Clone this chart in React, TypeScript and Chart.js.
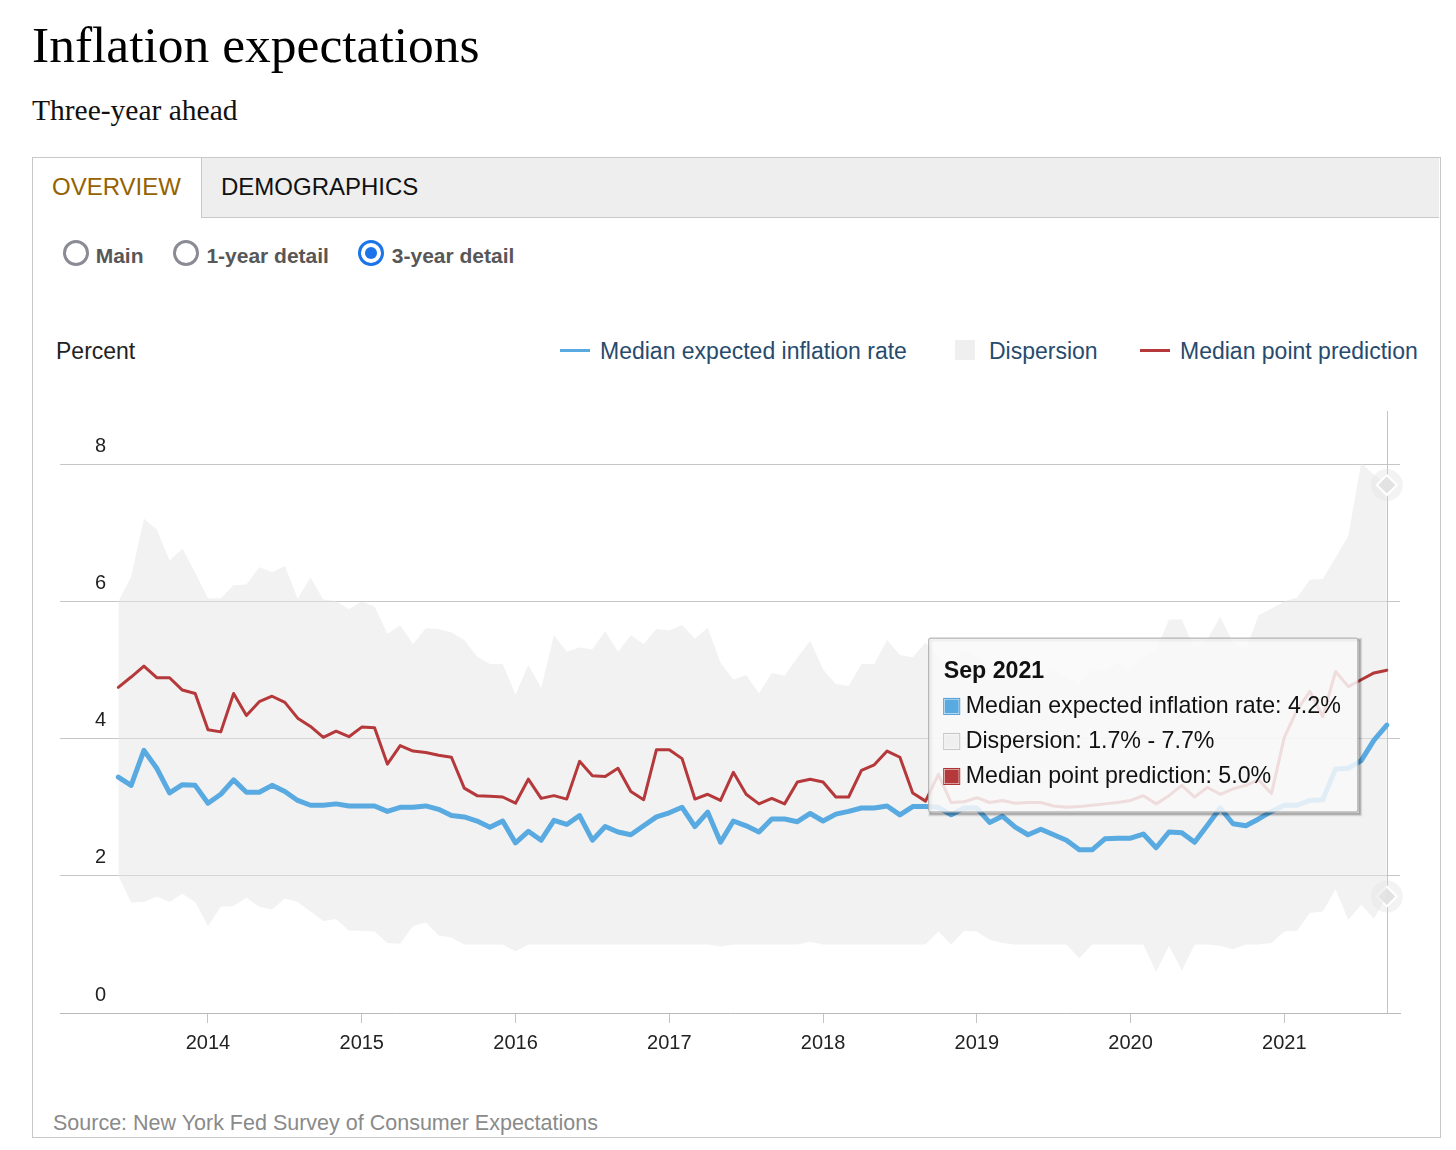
import React, { useEffect, useRef } from 'react';
import { Chart, registerables, Tooltip } from 'chart.js';

Chart.register(...registerables);

// ---------- DATA ----------
const SERIES_NAMES = ['Median expected inflation rate', 'Dispersion', 'Median point prediction'];
const START_YEAR = 2013;
const START_MONTH = 6; // first observation: June 2013
const MONTH_NAMES = ['Jan', 'Feb', 'Mar', 'Apr', 'May', 'Jun', 'Jul', 'Aug', 'Sep', 'Oct', 'Nov', 'Dec'];
const YEAR_TICKS = ['2014', '2015', '2016', '2017', '2018', '2019', '2020', '2021'];
const Y_TICKS = [0, 2, 4, 6, 8];

// Median expected inflation rate (three-year ahead), Jun 2013 - Sep 2021
const medianExpected = [
  3.44, 3.32, 3.83, 3.57, 3.21, 3.33, 3.32,
  3.06, 3.19, 3.40, 3.22, 3.22, 3.32, 3.23, 3.10, 3.03, 3.03, 3.05, 3.02,
  3.02, 3.02, 2.94, 3.00, 3.00, 3.02, 2.97, 2.88, 2.86, 2.80, 2.71, 2.80,
  2.48, 2.65, 2.52, 2.81, 2.75, 2.88, 2.52, 2.72, 2.64, 2.60, 2.73, 2.86,
  2.92, 3.00, 2.72, 2.93, 2.49, 2.80, 2.73, 2.64, 2.83, 2.83, 2.79, 2.91,
  2.80, 2.90, 2.94, 2.99, 2.99, 3.02, 2.89, 3.01, 3.01, 3.00, 2.89, 2.99,
  2.99, 2.78, 2.87, 2.71, 2.60, 2.68, 2.60, 2.52, 2.38, 2.38, 2.54, 2.55,
  2.55, 2.61, 2.41, 2.64, 2.63, 2.49, 2.74, 2.99, 2.76, 2.73, 2.83, 2.94,
  3.03, 3.03, 3.10, 3.11, 3.56, 3.57, 3.68, 3.98, 4.20,
];

// Median point prediction
const medianPoint = [
  4.75, 4.90, 5.06, 4.89, 4.89, 4.71, 4.66,
  4.13, 4.10, 4.66, 4.34, 4.54, 4.62, 4.53, 4.30, 4.18, 4.02, 4.11, 4.03,
  4.17, 4.16, 3.63, 3.90, 3.82, 3.80, 3.76, 3.73, 3.28, 3.17, 3.16, 3.15,
  3.06, 3.41, 3.13, 3.17, 3.12, 3.67, 3.46, 3.45, 3.57, 3.23, 3.11, 3.84,
  3.84, 3.71, 3.12, 3.19, 3.10, 3.51, 3.19, 3.05, 3.13, 3.05, 3.37, 3.41,
  3.37, 3.15, 3.15, 3.54, 3.62, 3.82, 3.73, 3.21, 3.09, 3.48, 3.07, 3.08,
  3.14, 3.07, 3.10, 3.06, 3.07, 3.07, 3.02, 3.00, 3.01, 3.03, 3.05, 3.07,
  3.10, 3.17, 3.05, 3.17, 3.32, 3.15, 3.29, 3.19, 3.27, 3.32, 3.40, 3.20,
  4.02, 4.42, 4.69, 4.32, 4.98, 4.76, 4.86, 4.96, 5.00,
];

// Dispersion: upper bound
const dispersionHigh = [
  6.00, 6.36, 7.21, 7.05, 6.60, 6.77, 6.42,
  6.05, 6.05, 6.24, 6.25, 6.50, 6.43, 6.52, 6.04, 6.35, 6.03, 6.01, 5.89,
  6.00, 5.93, 5.53, 5.65, 5.38, 5.61, 5.60, 5.55, 5.44, 5.20, 5.09, 5.09,
  4.64, 5.08, 4.74, 5.51, 5.27, 5.33, 5.30, 5.57, 5.27, 5.51, 5.38, 5.60,
  5.58, 5.66, 5.46, 5.62, 5.11, 4.86, 4.93, 4.66, 4.96, 4.92, 5.18, 5.43,
  5.01, 4.80, 4.77, 5.09, 5.09, 5.44, 5.22, 5.19, 5.40, 5.20, 5.10, 5.30,
  5.20, 5.00, 5.10, 5.00, 5.00, 4.90, 5.00, 4.90, 4.80, 5.00, 5.00, 5.10,
  5.00, 5.20, 5.30, 5.74, 5.74, 5.30, 5.45, 5.78, 5.40, 5.30, 5.80, 5.90,
  6.00, 6.06, 6.32, 6.33, 6.64, 6.96, 8.02, 7.85, 7.70,
];

// Dispersion: lower bound
const dispersionLow = [
  2.00, 1.61, 1.62, 1.70, 1.62, 1.74, 1.62,
  1.27, 1.55, 1.56, 1.68, 1.55, 1.51, 1.67, 1.62, 1.48, 1.34, 1.37, 1.20,
  1.20, 1.19, 1.02, 1.01, 1.27, 1.32, 1.13, 1.10, 1.00, 1.00, 1.00, 1.00,
  0.90, 1.00, 1.00, 1.00, 1.00, 1.00, 1.00, 1.00, 1.00, 1.00, 1.00, 1.00,
  1.00, 1.00, 1.00, 1.00, 0.97, 1.00, 1.00, 1.00, 1.00, 1.00, 1.00, 1.04,
  1.00, 1.00, 1.00, 1.00, 1.00, 1.00, 1.00, 1.00, 1.00, 1.19, 1.00, 1.20,
  1.19, 1.07, 1.02, 1.00, 1.00, 1.00, 1.00, 1.00, 0.80, 1.00, 1.00, 1.00,
  1.00, 1.00, 0.60, 0.98, 0.62, 1.00, 1.00, 0.98, 0.93, 1.00, 1.00, 1.02,
  1.19, 1.20, 1.46, 1.48, 1.80, 1.36, 1.58, 1.38, 1.70,
];

// ---------- STYLE ----------
const BLUE = '#5aaae2';
const RED = '#b5393b';
const DISP_FILL = 'rgba(230,230,230,0.5)';
const SANS = '"Liberation Sans", Arial, Helvetica, sans-serif';
const SERIF = '"Liberation Serif", "Times New Roman", serif';

// month offsets (months since Jan of START_YEAR) and labels for each observation
const monthOffsets = medianExpected.map((_, i) => START_MONTH - 1 + i);
const monthLabels = monthOffsets.map(
  (m) => `${MONTH_NAMES[m % 12]} ${START_YEAR + Math.floor(m / 12)}`
);

(Tooltip.positioners as any).besideBlue = function (elements: any[]) {
  if (!elements || !elements.length) return false;
  const el = elements.find((e) => e.datasetIndex === 0) || elements[0];
  return { x: el.element.x, y: el.element.y };
};

function ChartCanvas() {
  const ref = useRef<HTMLCanvasElement>(null);
  useEffect(() => {
    const canvas = ref.current;
    if (!canvas) return;
    Chart.defaults.font.family = SANS;
    const last = medianExpected.length - 1;
    const pts = (arr: number[]) => arr.map((v, i) => ({ x: monthOffsets[i], y: v }));
    const hoverRadius = (ctx: any) => (ctx.dataIndex === last ? 10 : 0);

    const decor = {
      id: 'decor',
      beforeDatasetsDraw(chart: any) {
        const { ctx, chartArea, scales } = chart;
        const x = scales.x.getPixelForValue(monthOffsets[last]);
        ctx.save();
        ctx.strokeStyle = '#c4c4c4';
        ctx.lineWidth = 1;
        ctx.beginPath();
        ctx.moveTo(Math.round(x) + 0.5, chartArea.top);
        ctx.lineTo(Math.round(x) + 0.5, chartArea.bottom);
        ctx.stroke();
        ctx.fillStyle = 'rgba(215,215,215,0.3)';
        [dispersionHigh[last], dispersionLow[last]].forEach((v) => {
          ctx.beginPath();
          ctx.arc(x, scales.y.getPixelForValue(v), 16, 0, Math.PI * 2);
          ctx.fill();
        });
        ctx.restore();
      },
      beforeTooltipDraw(chart: any, args: any) {
        const t = args.tooltip;
        const { ctx } = chart;
        ctx.save();
        [[5, 0.07], [3, 0.14], [1, 0.2]].forEach(([w, a]) => {
          ctx.strokeStyle = `rgba(0,0,0,${a})`;
          ctx.lineWidth = w;
          ctx.strokeRect(t.x + 2, t.y + 2, t.width, t.height);
        });
        ctx.restore();
      },
    };

    const chart = new Chart(canvas, {
      type: 'line',
      data: {
        datasets: [
          {
            label: SERIES_NAMES[0],
            data: pts(medianExpected),
            borderColor: BLUE,
            backgroundColor: BLUE,
            borderWidth: 5,
            pointRadius: 0,
            fill: false,
            tension: 0,
            borderJoinStyle: 'round',
            borderCapStyle: 'round',
            order: 0,
          },
          {
            label: SERIES_NAMES[1],
            data: pts(dispersionHigh),
            borderColor: 'transparent',
            backgroundColor: DISP_FILL,
            borderWidth: 1,
            fill: '+1',
            tension: 0,
            pointRadius: hoverRadius,
            pointStyle: 'rectRot',
            pointBackgroundColor: '#e2e2e2',
            pointBorderColor: '#ffffff',
            pointBorderWidth: 2,
            order: 2,
          },
          {
            label: SERIES_NAMES[1] + ' (low)',
            data: pts(dispersionLow),
            borderColor: 'transparent',
            backgroundColor: DISP_FILL,
            borderWidth: 1,
            fill: false,
            tension: 0,
            pointRadius: hoverRadius,
            pointStyle: 'rectRot',
            pointBackgroundColor: '#e2e2e2',
            pointBorderColor: '#ffffff',
            pointBorderWidth: 2,
            order: 2,
          },
          {
            label: SERIES_NAMES[2],
            data: pts(medianPoint),
            borderColor: RED,
            backgroundColor: RED,
            borderWidth: 3,
            pointRadius: 0,
            fill: false,
            tension: 0,
            borderJoinStyle: 'round',
            borderCapStyle: 'round',
            order: 1,
          },
        ],
      },
      options: {
        animation: false,
        responsive: true,
        maintainAspectRatio: false,
        events: [],
        layout: { padding: { left: 27, right: 39, top: 31, bottom: 0 } },
        scales: {
          x: {
            type: 'linear',
            min: 0.45,
            max: 105.03,
            afterBuildTicks: (s: any) => {
              s.ticks = YEAR_TICKS.map((y) => ({ value: (Number(y) - START_YEAR) * 12 }));
            },
            afterFit: (s: any) => {
              s.height = 67;
              s.paddingLeft = 0;
              s.paddingRight = 0;
            },
            ticks: {
              autoSkip: false,
              maxRotation: 0,
              padding: 8,
              color: '#222',
              font: { size: 20, family: SANS },
              callback: (_v: any, i: number) => YEAR_TICKS[i],
            },
            grid: {
              drawOnChartArea: false,
              drawTicks: true,
              tickLength: 10,
              color: '#c4c4c4',
              lineWidth: 1,
            },
            border: { display: true, color: '#b9b9b9', width: 1 },
          },
          y: {
            type: 'linear',
            min: 0,
            max: 8.78,
            afterBuildTicks: (s: any) => {
              s.ticks = Y_TICKS.map((v) => ({ value: v }));
            },
            afterFit: (s: any) => {
              s.width = 0;
              s.paddingTop = 0;
              s.paddingBottom = 0;
            },
            ticks: {
              mirror: true,
              padding: 35,
              labelOffset: -18,
              crossAlign: 'near',
              color: '#222',
              font: { size: 20, family: SANS },
              callback: (v: any) => String(v),
            },
            grid: {
              drawTicks: false,
              lineWidth: 1,
              color: (c: any) => (c.tick && c.tick.value === 0 ? 'transparent' : '#c6c6c6'),
            },
            border: { display: false },
          },
        },
        plugins: {
          legend: { display: false },
          title: { display: false },
          tooltip: {
            enabled: true,
            position: 'besideBlue' as any,
            xAlign: 'right',
            yAlign: 'center',
            caretSize: 0,
            caretPadding: 29,
            backgroundColor: 'rgba(249,249,249,0.85)',
            borderColor: '#a9a9a9',
            borderWidth: 1,
            cornerRadius: 2,
            titleColor: '#111',
            bodyColor: '#111',
            titleFont: { family: SANS, size: 23.2, weight: 'bold' },
            bodyFont: { family: SANS, size: 23.2 },
            padding: { top: 20, bottom: 21.5, left: 15, right: 17 },
            titleMarginBottom: 6.5,
            bodySpacing: 7.2,
            boxWidth: 16,
            boxHeight: 16,
            boxPadding: 4,
            displayColors: true,
            multiKeyBackground: '#ffffff',
            filter: (item: any) => item.datasetIndex !== 2,
            callbacks: {
              title: (items: any[]) => monthLabels[items[0].dataIndex],
              label: (item: any) => {
                const i = item.dataIndex;
                if (item.datasetIndex === 0)
                  return `${SERIES_NAMES[0]}: ${medianExpected[i].toFixed(1)}%`;
                if (item.datasetIndex === 1)
                  return `${SERIES_NAMES[1]}: ${dispersionLow[i].toFixed(1)}% - ${dispersionHigh[i].toFixed(1)}%`;
                return `${SERIES_NAMES[2]}: ${medianPoint[i].toFixed(1)}%`;
              },
              labelColor: (item: any) => {
                if (item.datasetIndex === 0)
                  return { borderColor: '#4d9bd3', backgroundColor: BLUE, borderWidth: 1 };
                if (item.datasetIndex === 1)
                  return { borderColor: '#c4c4c4', backgroundColor: '#efefef', borderWidth: 1 };
                return { borderColor: '#a33', backgroundColor: RED, borderWidth: 1 };
              },
            },
          },
        },
      },
      plugins: [decor],
    } as any);

    const blueEl = chart.getDatasetMeta(0).data[last] as any;
    chart.tooltip!.setActiveElements(
      [
        { datasetIndex: 0, index: last },
        { datasetIndex: 1, index: last },
        { datasetIndex: 3, index: last },
      ],
      { x: blueEl.x, y: blueEl.y }
    );
    chart.update();

    return () => chart.destroy();
  }, []);

  return <canvas ref={ref} />;
}

function Radio({ left, selected, label, textLeft }: any) {
  return (
    <>
      <div
        style={{
          position: 'absolute',
          left,
          top: 239.5,
          width: 26,
          height: 26,
          boxSizing: 'border-box',
          borderRadius: '50%',
          border: `3px solid ${selected ? '#1c74ea' : '#8b8b96'}`,
          background: '#fff',
        }}
      >
        {selected && (
          <div
            style={{
              position: 'absolute',
              left: 4,
              top: 4,
              width: 12,
              height: 12,
              borderRadius: '50%',
              background: '#1c74ea',
            }}
          />
        )}
      </div>
      <div
        style={{
          position: 'absolute',
          left: textLeft,
          top: 245,
          fontFamily: SANS,
          fontWeight: 'bold',
          fontSize: 21,
          lineHeight: '21px',
          color: '#575757',
          whiteSpace: 'nowrap',
        }}
      >
        {label}
      </div>
    </>
  );
}

const legendText: any = {
  position: 'absolute',
  top: 339.5,
  fontFamily: SANS,
  fontSize: 23,
  lineHeight: '23px',
  color: '#274b6d',
  whiteSpace: 'nowrap',
};

export default function App() {
  return (
    <div
      style={{
        position: 'absolute',
        left: 0,
        top: 0,
        width: 1456,
        height: 1150,
        background: '#fff',
        overflow: 'hidden',
      }}
    >
      <div
        style={{
          position: 'absolute',
          left: 32,
          top: 19,
          fontFamily: SERIF,
          fontSize: 51.5,
          lineHeight: '51.5px',
          color: '#000',
          whiteSpace: 'nowrap',
        }}
      >
        Inflation expectations
      </div>
      <div
        style={{
          position: 'absolute',
          left: 32,
          top: 96,
          fontFamily: SERIF,
          fontSize: 29.5,
          lineHeight: '29.5px',
          color: '#111',
          whiteSpace: 'nowrap',
        }}
      >
        Three-year ahead
      </div>

      {/* panel */}
      <div
        style={{
          position: 'absolute',
          left: 32,
          top: 157,
          width: 1409,
          height: 981,
          boxSizing: 'border-box',
          border: '1px solid #c8c8c8',
        }}
      />
      <div
        style={{
          position: 'absolute',
          left: 201,
          top: 158,
          width: 1238,
          height: 60,
          boxSizing: 'border-box',
          background: '#eeeeee',
          borderLeft: '1px solid #c8c8c8',
          borderBottom: '1px solid #c8c8c8',
        }}
      />
      <div
        style={{
          position: 'absolute',
          left: 52,
          top: 174.7,
          fontFamily: SANS,
          fontSize: 24,
          lineHeight: '24px',
          color: '#946200',
          whiteSpace: 'nowrap',
        }}
      >
        OVERVIEW
      </div>
      <div
        style={{
          position: 'absolute',
          left: 221,
          top: 174.7,
          fontFamily: SANS,
          fontSize: 24,
          lineHeight: '24px',
          color: '#111',
          whiteSpace: 'nowrap',
        }}
      >
        DEMOGRAPHICS
      </div>

      <Radio left={62.5} textLeft={95.7} label="Main" selected={false} />
      <Radio left={172.7} textLeft={206.4} label="1-year detail" selected={false} />
      <Radio left={358.4} textLeft={391.8} label="3-year detail" selected={true} />

      <div
        style={{
          position: 'absolute',
          left: 56,
          top: 339.5,
          fontFamily: SANS,
          fontSize: 23,
          lineHeight: '23px',
          color: '#222',
          whiteSpace: 'nowrap',
        }}
      >
        Percent
      </div>

      {/* legend */}
      <div style={{ position: 'absolute', left: 560, top: 348.5, width: 30, height: 3.5, background: BLUE }} />
      <div style={{ ...legendText, left: 600 }}>{SERIES_NAMES[0]}</div>
      <div style={{ position: 'absolute', left: 955, top: 340, width: 20, height: 20, background: '#efefef' }} />
      <div style={{ ...legendText, left: 989 }}>{SERIES_NAMES[1]}</div>
      <div style={{ position: 'absolute', left: 1140, top: 348.5, width: 30, height: 3.5, background: RED }} />
      <div style={{ ...legendText, left: 1180 }}>{SERIES_NAMES[2]}</div>

      <div style={{ position: 'absolute', left: 33, top: 380, width: 1406, height: 700 }}>
        <ChartCanvas />
      </div>

      <div
        style={{
          position: 'absolute',
          left: 53,
          top: 1112.8,
          fontFamily: SANS,
          fontSize: 21.5,
          lineHeight: '21.5px',
          color: '#8a8a8a',
          whiteSpace: 'nowrap',
        }}
      >
        Source: New York Fed Survey of Consumer Expectations
      </div>
    </div>
  );
}
